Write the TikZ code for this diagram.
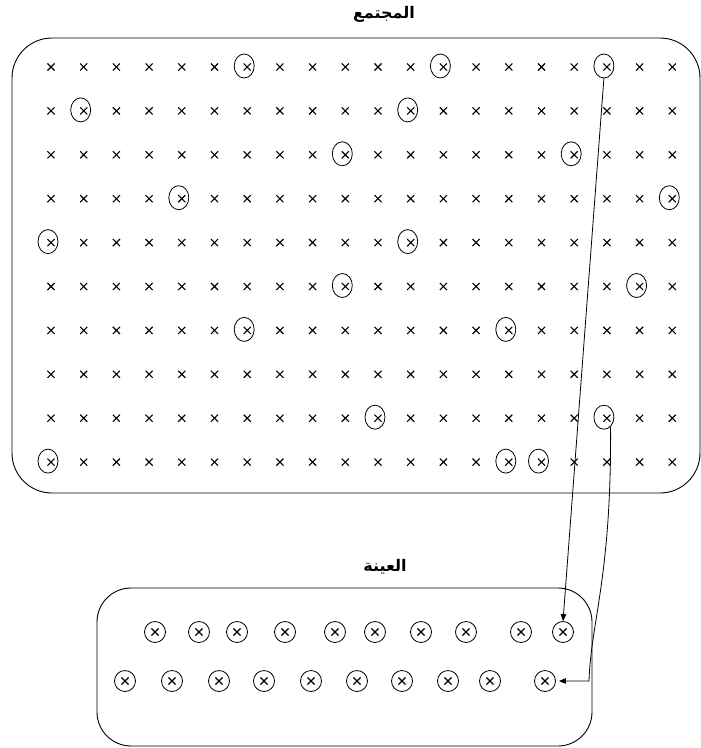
\documentclass[tikz,border=0pt]{standalone}
\usepackage{fontspec}
\usetikzlibrary{shapes.misc,shapes.geometric,arrows.meta}
\newfontfamily\arabicfont[Script=Arabic]{DejaVu Sans}
\TeXXeTstate=1
\tikzset{
  markx/.style={cross out,draw,minimum size=6pt,inner sep=0pt,line width=1.1pt},
  ring/.style={draw,inner sep=0pt,line width=0.8pt},
  heading/.style={font=\arabicfont\bfseries\fontsize{16}{19}\selectfont},
  pick/.style={-{Triangle[length=7pt,width=5.5pt]},line width=0.8pt}
}
\begin{document}
\begin{tikzpicture}[x=1pt,y=-1pt]
        \useasboundingbox (0,0) rectangle (701,748);
        % population
        \draw[line width=0.9pt,rounded corners=40pt] (12,38) rectangle (700,493);
        \node[heading] (poptitle) at (384,14) {\beginR المجتمع\endR};
        \foreach \j in {0,...,9}
          \foreach \i in {0,...,19}
            \node[markx] (p-\i-\j) at ({51+32.7*\i},{67+43.9*\j}) {};
        \foreach \i/\j in {6/0,12/0,17/0,1/1,11/1,9/2,16/2,4/3,19/3,0/4,11/4,
                           9/5,18/5,6/6,14/6,10/8,17/8,0/9,14/9,15/9}
          \node[ring,ellipse,minimum width=20pt,minimum height=24pt]
            (r-\i-\j) at ([xshift=-3pt,yshift=1pt]p-\i-\j) {};
        % sample
        \draw[line width=0.9pt,rounded corners=34pt] (97,588) rectangle (592,746);
        \node[heading] (samtitle) at (385,567) {\beginR العينة\endR};
        \foreach \x [count=\k] in {155,199,237,285,335,375,421,466,521,563}
          {
            \node[markx] (a-\k) at (\x,632) {};
            \node[ring,circle,minimum size=21pt] (sa-\k) at (a-\k) {};
          }
        \foreach \x [count=\k] in {125,172,219,264,311,357,402,448,490,545}
          {
            \node[markx] (b-\k) at (\x,681) {};
            \node[ring,circle,minimum size=21pt] (sb-\k) at (b-\k) {};
          }
        % drawing the units
        \draw[pick] (r-17-0.south) -- (sa-10.north);
        \coordinate (turn) at (589,681);
        \draw[pick,shorten >=3pt] (r-17-8.-55) .. controls +(1,150) and +(2,-60) .. (turn) -- (sb-10.east);
    \end{tikzpicture}
\end{document}
